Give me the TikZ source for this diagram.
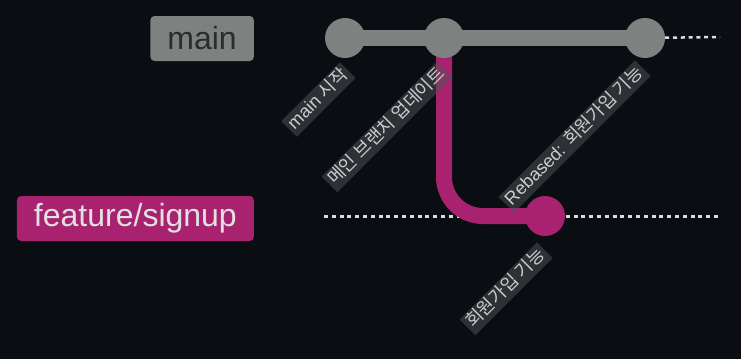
\documentclass[tikz,border=0pt]{standalone}
\usepackage{fontspec}
\setmainfont{Liberation Sans}
\newfontfamily\kr{Noto Sans CJK KR}
\definecolor{bgdark}{RGB}{10,13,18}
\definecolor{maingray}{RGB}{125,129,128}
\definecolor{featpurple}{RGB}{168,34,112}
\definecolor{lblbox}{RGB}{80,84,86}
\definecolor{lbltext}{RGB}{205,205,205}
\definecolor{darktext}{RGB}{42,44,46}
\definecolor{lighttext}{RGB}{225,225,225}
\definecolor{dashwhite}{RGB}{220,220,220}
\pgfdeclarelayer{bg}
\pgfsetlayers{bg,main}

\begin{document}
\begin{tikzpicture}[x=1pt, y=-1pt,
  commit/.style={circle, minimum size=40pt, inner sep=0pt},
  branchlbl/.style={rounded corners=4pt, anchor=east, minimum height=45pt, inner xsep=17pt, inner ysep=0pt, font=\fontsize{32}{36}\selectfont},
  commitlbl/.style={fill=lblbox, fill opacity=0.5, text opacity=1, text=lbltext, rotate=45, anchor=east, inner xsep=3pt, inner ysep=2pt, text height=14pt, text depth=4pt, font=\fontsize{18}{21}\selectfont},
  guide/.style={dashwhite, line width=2.5pt, dash pattern=on 4pt off 3.8pt}]
  \useasboundingbox (0,0) rectangle (741,359);

  % branch names
  \node[branchlbl, fill=maingray, text=darktext] (mainlbl) at (254,38.5) {main};
  \node[branchlbl, fill=featpurple, text=lighttext] (featlbl) at (254,218.5) {feature/signup};

  % commits
  \node[commit, fill=maingray] (c1) at (345,38) {};
  \node[commit, fill=maingray, right of=c1, node distance=99pt] (c2) {};
  \node[commit, fill=maingray, right of=c2, node distance=201pt] (c3) {};
  \node[commit, fill=featpurple] (f1) at (545,216) {};

  \coordinate (mainend) at (720,37);
  \coordinate (featstart) at (324,216.5);
  \coordinate (featend) at (720,216.5);

  \begin{pgfonlayer}{bg}
    \fill[bgdark] (0,0) rectangle (741,359);
    \draw[guide] (c3) -- (mainend);
    \draw[guide] (featstart) -- (featend);
    \draw[maingray, line width=16pt] (c1.center) -- (c3.center);
    \draw[featpurple, line width=16pt, rounded corners=39pt] (c2.center) |- (f1.center);
  \end{pgfonlayer}

  % commit messages
  \node[commitlbl] (m1) at ([shift={(3,32)}]c1.center) {main {\kr 시작}};
  \node[commitlbl] (m2) at ([shift={(1,31)}]c2.center) {\kr 메인 브랜치 업데이트};
  \node[commitlbl] (m3) at ([shift={(-2,30)}]c3.center) {Rebased: {\kr 회원가입 기능}};
  \node[commitlbl] (m4) at ([shift={(0,34)}]f1.center) {\kr 회원가입 기능};
\end{tikzpicture}
\end{document}
